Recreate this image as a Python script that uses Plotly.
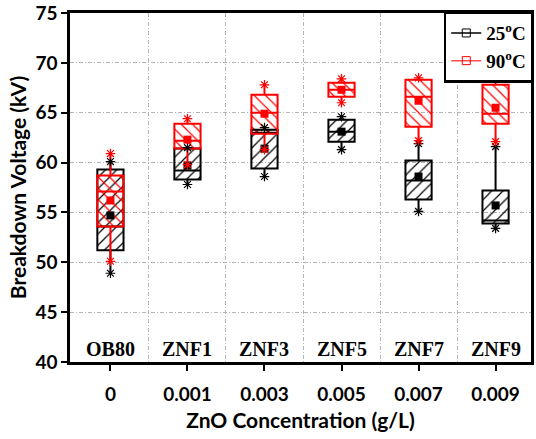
import plotly.graph_objects as go

samples = ["OB80", "ZNF1", "ZNF3", "ZNF5", "ZNF7", "ZNF9"]
conc_labels = ["0", "0.001", "0.003", "0.005", "0.007", "0.009"]

# 25 °C statistics (kV)
b_low = [48.9, 57.8, 58.6, 61.3, 55.1, 53.4]
b_q1 = [51.2, 58.3, 59.4, 62.1, 56.3, 53.9]
b_med = [53.6, 59.2, 63.0, 63.1, 58.2, 54.2]
b_q3 = [59.3, 61.4, 63.3, 64.3, 60.2, 57.2]
b_high = [60.1, 61.5, 63.5, 64.6, 61.9, 61.6]
b_mean = [54.7, 59.7, 61.4, 63.1, 58.6, 55.7]

# 90 °C statistics (kV)
r_low = [50.1, 59.8, 61.3, 66.0, 62.2, 62.1]
r_q1 = [53.6, 61.4, 62.9, 66.6, 63.6, 63.9]
r_med = [57.1, 62.2, 65.0, 67.3, 66.6, 64.9]
r_q3 = [58.7, 63.9, 66.8, 68.0, 68.3, 67.8]
r_high = [60.9, 64.4, 67.8, 68.4, 68.5, 69.0]
r_mean = [56.2, 62.3, 64.9, 67.3, 66.2, 65.5]

xs = list(range(len(samples)))
BW = 0.34
TICKFONT = dict(family="Lato", size=19, color="black", weight="bold")
GRID = dict(gridcolor="#b4b4b4", griddash="4px,2px,1px,2px", gridwidth=1)

fig = go.Figure()


def add_series(low, q1, med, q3, high, color, hatch):
    fig.add_trace(go.Bar(
        x=xs, y=[a - b for a, b in zip(q3, q1)], base=q1, width=BW,
        marker=dict(color="rgba(0,0,0,0)", line=dict(width=0),
                    pattern=dict(shape=hatch, fgcolor=color, bgcolor="rgba(0,0,0,0)",
                                 size=8, solidity=0.15, fillmode="replace")),
        showlegend=False, hoverinfo="skip"))
    fig.add_trace(go.Box(
        x=xs, q1=q1, median=med, q3=q3, lowerfence=low, upperfence=high,
        width=BW, fillcolor="rgba(0,0,0,0)", line=dict(color=color, width=2),
        whiskerwidth=0, boxpoints=False, showlegend=False))


add_series(b_low, b_q1, b_med, b_q3, b_high, "black", "/")
add_series(r_low, r_q1, r_med, r_q3, r_high, "red", "\\")

for low, high, mean, color in [(b_low, b_high, b_mean, "black"), (r_low, r_high, r_mean, "red")]:
    fig.add_trace(go.Scatter(
        x=xs + xs, y=low + high, mode="markers",
        marker=dict(symbol="asterisk-open", size=8, color=color, line=dict(color=color, width=1.2)),
        showlegend=False, hoverinfo="skip"))
    fig.add_trace(go.Scatter(
        x=xs, y=mean, mode="markers",
        marker=dict(symbol="square", size=8, color=color),
        showlegend=False))

fig.add_trace(go.Scatter(x=[None], y=[None], mode="lines+markers", name="25<sup>o</sup>C",
                         line=dict(color="black", width=1.5),
                         marker=dict(symbol="square-open", size=8, color="black")))
fig.add_trace(go.Scatter(x=[None], y=[None], mode="lines+markers", name="90<sup>o</sup>C",
                         line=dict(color="#ff5050", width=1.5),
                         marker=dict(symbol="square-open", size=8, color="red")))

for i, s in enumerate(samples):
    fig.add_annotation(x=i, y=40, yanchor="bottom", text=s, showarrow=False,
                       font=dict(family="Liberation Serif", size=20, color="black", weight="bold"))

fig.update_layout(
    width=536, height=439,
    margin=dict(l=70, r=2, t=13, b=77),
    paper_bgcolor="white", plot_bgcolor="white",
    barmode="overlay", boxmode="overlay",
    legend=dict(x=1.006, xanchor="right", y=1.004, yanchor="top", bgcolor="white",
                bordercolor="black", borderwidth=2.5,
                font=dict(family="Liberation Serif", size=19, color="black", weight="bold"),
                tracegroupgap=0, itemwidth=30),
    xaxis=dict(range=[-0.525, 5.46], tickmode="array", tickvals=xs, ticktext=conc_labels,
               ticks="outside", ticklen=6, tickwidth=2, tickcolor="black",
               showline=True, linewidth=2.5, linecolor="black", mirror=True,
               showgrid=False, zeroline=False, tickfont=TICKFONT, ticklabelstandoff=7,
               minor=dict(tickmode="array", tickvals=[i + 0.5 for i in xs[:-1]], showgrid=True,
                          ticks="", **GRID),
               title=dict(text="ZnO Concentration (g/L)",
                          font=dict(family="Lato", size=21, color="black", weight="bold"),
                          standoff=10)),
    yaxis=dict(range=[40, 75], tickmode="linear", tick0=40, dtick=5,
               ticks="outside", ticklen=6, tickwidth=2, tickcolor="black",
               showline=True, linewidth=2.5, linecolor="black", mirror=True,
               showgrid=True, zeroline=False, tickfont=TICKFONT, **GRID,
               title=dict(text="Breakdown Voltage (kV)",
                          font=dict(family="Lato", size=21, color="black", weight="bold"),
                          standoff=4)),
)

fig.write_html("out.html")
